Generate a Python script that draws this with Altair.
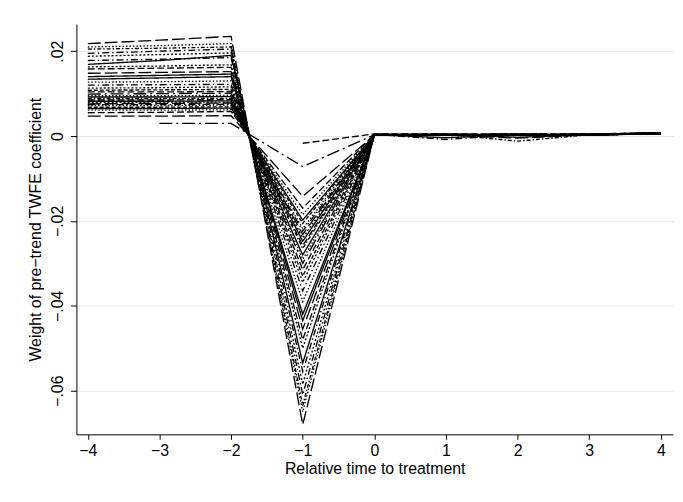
import altair as alt
import pandas as pd

times = [-4, -3, -2, -1, 0, 1, 2, 3, 4]

# weights per relative period, one entry per line (None = not observed)
w_m4 = [0.0218, 0.0210, 0.0195, 0.0205, 0.0169, 0.0158, 0.0163, 0.0148, 0.0134, 0.0127,
        0.0120, 0.0113, 0.0108, 0.0104, 0.0099, 0.0095, 0.0092, 0.0088, 0.0085, 0.0082,
        0.0079, 0.0076, 0.0074, 0.0072, 0.0068, 0.0065, 0.0061, 0.0055, 0.0047, None,
        None, 0.0188, 0.0178, 0.0140]
w_m3 = [0.0226, 0.0213, 0.0200, 0.0207, 0.0178, 0.0160, 0.0165, 0.0150, 0.0137, 0.0128,
        0.0121, 0.0114, 0.0109, 0.0104, 0.0100, 0.0095, 0.0092, 0.0088, 0.0085, 0.0082,
        0.0080, 0.0077, 0.0074, 0.0072, 0.0068, 0.0065, 0.0061, 0.0056, 0.0047, 0.0030,
        None, 0.0192, 0.0181, 0.0143]
w_m2 = [0.0235, 0.0218, 0.0205, 0.0210, 0.0190, 0.0162, 0.0168, 0.0152, 0.0140, 0.0130,
        0.0122, 0.0116, 0.0110, 0.0105, 0.0101, 0.0096, 0.0093, 0.0089, 0.0086, 0.0083,
        0.0080, 0.0078, 0.0075, 0.0073, 0.0069, 0.0066, 0.0062, 0.0058, 0.0048, 0.0030,
        None, 0.0196, 0.0185, 0.0146]
w_m1 = [-0.0680, -0.0650, -0.0610, -0.0635, -0.0535, -0.0480, -0.0500, -0.0455, -0.0420, -0.0390,
        -0.0365, -0.0345, -0.0330, -0.0315, -0.0300, -0.0290, -0.0280, -0.0265, -0.0258, -0.0248,
        -0.0240, -0.0232, -0.0224, -0.0218, -0.0206, -0.0198, -0.0185, -0.0170, -0.0142, -0.0072,
        -0.0017, -0.0585, -0.0555, -0.0435]
w_0 = [0.0003, 0.0002, 0.0004, 0.0003, 0.0002, 0.0003, 0.0004, 0.0002, 0.0003, 0.0002,
       0.0003, 0.0004, 0.0002, 0.0003, 0.0004, 0.0002, 0.0003, 0.0002, 0.0003, 0.0004,
       0.0002, 0.0003, 0.0002, 0.0004, 0.0003, 0.0002, 0.0003, 0.0004, 0.0002, 0.0003,
       0.0005, 0.0003, 0.0002, 0.0004]
w_1 = [0.0004, 0.0003, -0.0008, 0.0004, 0.0003, 0.0002, 0.0004, 0.0003, -0.0004, 0.0003,
       0.0002, 0.0004, 0.0003, 0.0002, 0.0003, 0.0004, 0.0003, 0.0002, 0.0003, 0.0004,
       0.0002, 0.0003, 0.0004, 0.0002, 0.0003, 0.0004, 0.0003, 0.0002, 0.0003, 0.0004,
       0.0005, 0.0003, 0.0002, 0.0004]
w_2 = [0.0003, 0.0004, 0.0003, -0.0012, 0.0004, 0.0003, 0.0002, -0.0005, 0.0003, 0.0004,
       0.0003, 0.0002, 0.0004, 0.0003, 0.0002, 0.0003, 0.0004, 0.0003, 0.0002, -0.0003,
       0.0003, 0.0004, 0.0002, 0.0003, 0.0004, 0.0003, 0.0002, 0.0003, 0.0004, 0.0003,
       0.0005, 0.0002, 0.0003, 0.0004]
w_3 = [0.0004, 0.0003, 0.0004, 0.0003, 0.0004, 0.0003, 0.0004, 0.0003, 0.0003, 0.0004,
       0.0003, 0.0004, 0.0003, 0.0004, 0.0003, 0.0004, 0.0003, 0.0003, 0.0004, 0.0003,
       0.0004, 0.0003, 0.0004, 0.0003, 0.0004, 0.0003, 0.0004, 0.0003, 0.0004, 0.0003,
       0.0005, 0.0003, 0.0004, 0.0003]
w_4 = [0.0007, 0.0006, 0.0007, 0.0005, 0.0008, 0.0006, 0.0007, 0.0005, 0.0006, 0.0007,
       0.0005, 0.0006, 0.0007, 0.0005, 0.0006, 0.0008, 0.0005, 0.0006, 0.0007, 0.0005,
       0.0006, 0.0007, 0.0005, 0.0006, 0.0007, 0.0005, 0.0006, 0.0007, 0.0005, 0.0006,
       0.0008, 0.0006, 0.0007, 0.0005]

styles = ["longdash", "dot", "dashdot", "shortdashdot", "solid", "dash", "dot2", "longdash",
          "solid", "dot", "dashdot", "dot2", "shortdash", "dash", "longdashdot", "dot",
          "solid", "shortdashdot", "dash", "solid", "dot2", "longdash", "dashdot", "dot",
          "shortdash", "solid", "dot", "dash", "longdash", "longdashdot", "dash", "dot2",
          "dashdot", "solid"]

style_names = ["solid", "dash", "dot", "dot2", "longdash", "dashdot", "longdashdot",
               "shortdash", "shortdashdot"]
style_dash = [[1, 0], [7, 3], [1.5, 2], [2, 2], [13, 4], [7, 3, 1.5, 3], [13, 4, 2, 4],
              [4, 2], [4, 2, 1.5, 2]]

series = [w_m4, w_m3, w_m2, w_m1, w_0, w_1, w_2, w_3, w_4]
rows = []
for i in range(len(w_m1)):
    for t, s in zip(times, series):
        v = s[i]
        if v is not None:
            rows.append({"line": i, "time": t, "weight": v, "style": styles[i]})
df = pd.DataFrame(rows)

chart = alt.Chart(df).mark_line(color="black", strokeWidth=1.35).encode(
    x=alt.X("time:Q",
            scale=alt.Scale(domain=[-4.16, 4.17], nice=False, zero=False),
            axis=alt.Axis(values=[-4, -3, -2, -1, 0, 1, 2, 3, 4], format="d",
                          title="Relative time to treatment", grid=False,
                          tickSize=5, labelPadding=3, titlePadding=3)),
    y=alt.Y("weight:Q",
            scale=alt.Scale(domain=[-0.0703, 0.0264], nice=False, zero=False),
            axis=alt.Axis(values=[-0.06, -0.04, -0.02, 0, 0.02],
                          labelExpr="datum.value == 0 ? '0' : replace(format(datum.value, '.2f'), '0.', '.')",
                          labelAngle=270, labelAlign="center", labelBaseline="bottom",
                          title="Weight of pre\u2212trend TWFE coefficient",
                          grid=True, tickSize=6, labelPadding=5, titlePadding=6)),
    strokeDash=alt.StrokeDash("style:N",
                              scale=alt.Scale(domain=style_names, range=style_dash),
                              legend=None),
    detail="line:N",
).properties(
    width=602, height=414,
    autosize=alt.AutoSizeParams(type="none"),
    padding={"left": 69, "top": 14, "right": 2, "bottom": 60},
).configure_view(
    stroke=None
).configure_axis(
    labelFont="Liberation Sans", titleFont="Liberation Sans",
    labelFontSize=16, titleFontSize=16, labelColor="black", titleColor="black",
    titleFontWeight="normal", domainColor="black", tickColor="black",
    domainWidth=1, tickWidth=1, gridColor="#e6e6e6", gridWidth=1,
)

chart.save("out.html", embed_options={"renderer": "svg", "actions": False})
